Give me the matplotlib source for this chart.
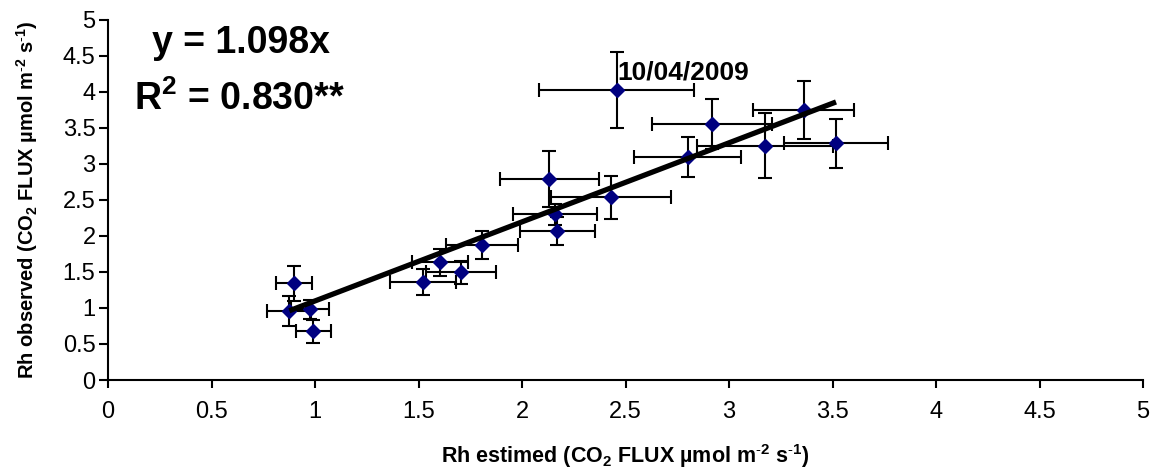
import matplotlib
matplotlib.use("Agg")
import matplotlib.pyplot as plt
import numpy as np

# Estimated vs observed heterotrophic respiration, with standard deviations
rh_estimated = [0.899, 0.876, 0.976, 0.992, 1.520, 1.604, 1.705, 1.808, 2.132,
                2.161, 2.171, 2.430, 2.457, 2.800, 2.920, 3.174, 3.360, 3.517]
rh_observed = [1.343, 0.963, 0.980, 0.680, 1.366, 1.634, 1.495, 1.875, 2.787,
               2.300, 2.069, 2.537, 4.030, 3.100, 3.556, 3.254, 3.750, 3.287]
err_estimated = [0.085, 0.106, 0.090, 0.085, 0.160, 0.137, 0.167, 0.174, 0.240,
                 0.203, 0.180, 0.290, 0.375, 0.260, 0.290, 0.330, 0.245, 0.250]
err_observed = [0.240, 0.210, 0.135, 0.160, 0.180, 0.185, 0.157, 0.200, 0.390,
                0.150, 0.190, 0.300, 0.530, 0.280, 0.350, 0.450, 0.400, 0.340]

slope = 1.098
r_squared = "0.830"
outlier_label = "10/04/2009"
outlier_index = 12

tick_values = [0, 0.5, 1, 1.5, 2, 2.5, 3, 3.5, 4, 4.5, 5]
tick_labels = ["0", "0.5", "1", "1.5", "2", "2.5", "3", "3.5", "4", "4.5", "5"]

plt.rcParams["font.family"] = ["Liberation Sans", "DejaVu Sans"]
plt.rcParams["mathtext.fontset"] = "custom"
plt.rcParams["mathtext.rm"] = "Liberation Sans"
plt.rcParams["mathtext.bf"] = "Liberation Sans:bold"
plt.rcParams["mathtext.default"] = "bf"

fig = plt.figure(figsize=(11.62, 4.73), dpi=100)
ax = fig.add_axes([108 / 1162, 93 / 473, 1035 / 1162, 360 / 473])

x = np.array(rh_estimated)
y = np.array(rh_observed)

ax.errorbar(x, y, xerr=err_estimated, yerr=err_observed, fmt="none",
            ecolor="black", elinewidth=1.5, capsize=5, capthick=1.5, zorder=2)
ax.plot(x, y, linestyle="none", marker="D", markersize=6.8,
        color="#000080", markeredgecolor="#000080", zorder=3)

# Regression through the origin, drawn over the observed range
xfit = np.array([x.min(), x.max()])
ax.plot(xfit, slope * xfit, color="black", linewidth=3.8,
        solid_capstyle="butt", zorder=4)

ax.text(0.643, 4.54, f"y = {slope:.3f}x", fontsize=27, fontweight="bold",
        ha="center", va="baseline")
ax.text(0.635, 3.75, r"R$^{2}$ = " + r_squared + "**", fontsize=27,
        fontweight="bold", ha="center", va="baseline")
ax.text(x[outlier_index] + 0.005, 4.167, outlier_label, fontsize=19,
        fontweight="bold", ha="left", va="baseline")

ax.set_xlim(0, 5)
ax.set_ylim(0, 5)
ax.set_xticks(tick_values)
ax.set_xticklabels(tick_labels)
ax.set_yticks(tick_values)
ax.set_yticklabels(tick_labels)

for side in ("top", "right"):
    ax.spines[side].set_visible(False)
for side in ("left", "bottom"):
    ax.spines[side].set_linewidth(1.5)

ax.tick_params(axis="x", direction="out", length=6, width=1.5,
               labelsize=17, pad=9)
ax.tick_params(axis="y", direction="out", length=6.5, width=1.5,
               labelsize=17, pad=2.5)

unit = r"(CO$_{2}$ FLUX µmol m$^{\text{-}2}$ s$^{\text{-}1}$)"
ax.set_xlabel("Rh estimed " + unit, fontsize=15.5, fontweight="bold")
ax.set_ylabel("Rh observed " + unit, fontsize=14.5, fontweight="bold")
ax.xaxis.set_label_coords(0.5, -0.172)
ax.yaxis.set_label_coords(-0.066, 0.5)

fig.savefig("out.png", dpi=100)
